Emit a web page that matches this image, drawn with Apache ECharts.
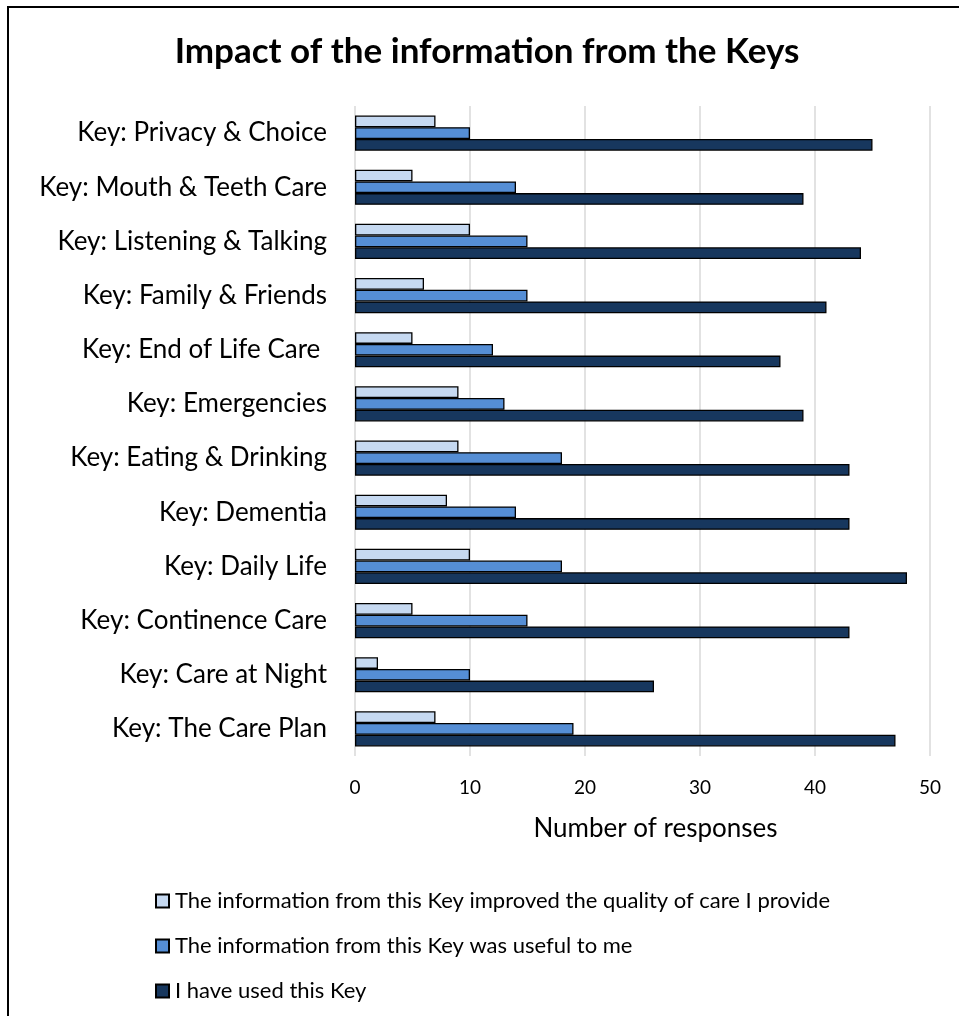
<!DOCTYPE html>
<html>
<head>
<meta charset="utf-8">
<style>
  html, body { margin: 0; padding: 0; background: #ffffff; }
  #chart { width: 959px; height: 1016px; }
</style>
<script src="https://cdn.jsdelivr.net/npm/echarts@6/dist/echarts.min.js"></script>
</head>
<body>
<div id="chart"></div>
<script>
// Keys, listed top to bottom
const categories = [
  'Key: Privacy & Choice',
  'Key: Mouth & Teeth Care',
  'Key: Listening & Talking',
  'Key: Family & Friends',
  'Key: End of Life Care ',
  'Key: Emergencies',
  'Key: Eating & Drinking',
  'Key: Dementia',
  'Key: Daily Life',
  'Key: Continence Care',
  'Key: Care at Night',
  'Key: The Care Plan'
];

const seriesNames = [
  'The information from this Key improved the quality of care I provide',
  'The information from this Key was useful to me',
  'I have used this Key'
];

const improvedCare = [7, 5, 10, 6, 5, 9, 9, 8, 10, 5, 2, 7];
const wasUseful    = [10, 14, 15, 15, 12, 13, 18, 14, 18, 15, 10, 19];
const haveUsed     = [45, 39, 44, 41, 37, 39, 43, 43, 48, 43, 26, 47];

const xTicks = { min: 0, max: 50, interval: 10 };

const colors = ['#C6D9F1', '#558ED5', '#17375E'];
const FONT = 'Lato';

const chart = echarts.init(document.getElementById('chart'), null, { renderer: 'canvas' });

function barSeries(name, data, color) {
  return {
    name: name,
    type: 'bar',
    data: data,
    barGap: '0%',
    barCategoryGap: '35%',
    itemStyle: { color: color, borderColor: '#000000', borderWidth: 1.3 },
    emphasis: { disabled: true }
  };
}

// one legend block per entry, stacked vertically below the axis title
function legendEntry(name, top) {
  return {
    orient: 'vertical',
    left: 150,
    top: top,
    itemWidth: 13,
    itemHeight: 13,
    icon: 'rect',
    textStyle: { fontSize: 22, color: '#000000', fontFamily: FONT, padding: [0, 0, 0, 1] },
    data: [name]
  };
}

chart.setOption({
  animation: false,
  backgroundColor: '#ffffff',
  textStyle: { fontFamily: FONT },
  graphic: [
    {
      type: 'rect',
      shape: { x: 8, y: 7, width: 1000, height: 1100 },
      style: { fill: 'none', stroke: '#000000', lineWidth: 2 },
      silent: true
    },
    {
      type: 'text',
      x: 487,
      y: 52,
      style: {
        text: 'Impact of the information from the Keys',
        fontFamily: FONT,
        fontWeight: 'bold',
        fontSize: 35,
        fill: '#000000',
        textAlign: 'center',
        textVerticalAlign: 'middle'
      }
    }
  ],
  grid: { left: 355, right: 29, top: 106, height: 650, containLabel: false },
  xAxis: {
    type: 'value',
    min: xTicks.min,
    max: xTicks.max,
    interval: xTicks.interval,
    name: 'Number of responses',
    nameLocation: 'middle',
    nameGap: 60,
    nameTextStyle: { fontSize: 26, color: '#000000', fontFamily: FONT, padding: [0, 0, 0, 26] },
    axisLine: { show: false },
    axisTick: { show: false },
    axisLabel: { fontSize: 19, color: '#000000', margin: 22, fontFamily: FONT },
    splitLine: { show: true, lineStyle: { color: '#D9D9D9', width: 1.5 } }
  },
  yAxis: {
    type: 'category',
    inverse: true,
    data: categories,
    axisLine: { show: false },
    axisTick: { show: false },
    axisLabel: { fontSize: 26, color: '#000000', margin: 28, fontFamily: FONT }
  },
  legend: [
    legendEntry(seriesNames[0], 885),
    legendEntry(seriesNames[1], 930),
    legendEntry(seriesNames[2], 975)
  ],
  series: [
    barSeries(seriesNames[0], improvedCare, colors[0]),
    barSeries(seriesNames[1], wasUseful, colors[1]),
    barSeries(seriesNames[2], haveUsed, colors[2])
  ]
});
</script>
</body>
</html>
